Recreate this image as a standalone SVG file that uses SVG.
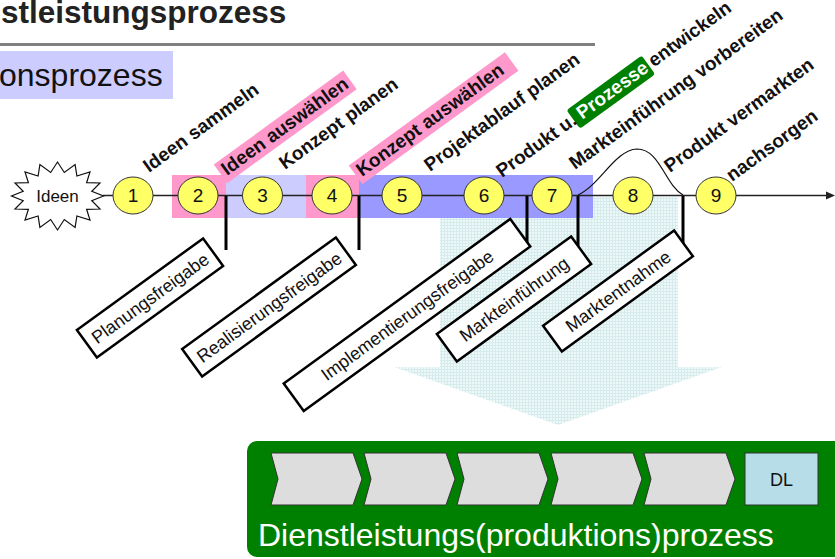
<svg xmlns="http://www.w3.org/2000/svg" width="835" height="559" viewBox="0 0 835 559">
  <style>
    .lbl { font-family: "Liberation Sans", Arial, sans-serif; font-size: 19px; font-weight: bold; fill: #111; }
    .num { font-family: "Liberation Sans", Arial, sans-serif; font-size: 19px; fill: #111; text-anchor: middle; }
    .box text { font-family: "Liberation Sans", Arial, sans-serif; font-size: 18px; fill: #111; text-anchor: middle; }
    .box rect { fill: #ffffff; stroke: #000; stroke-width: 2.5; }
    .step { fill: #ffff66; stroke: #333; stroke-width: 1; }
    .gate { stroke: #000; stroke-width: 3; fill: none; }
    .chev { fill: #dddddd; stroke: #333; stroke-width: 1; }
  </style>
  <defs>
    <pattern id="grid" width="3" height="3" patternUnits="userSpaceOnUse">
      <rect width="3" height="3" fill="#eff8f8"/>
      <path d="M0,0.5H3M0.5,0V3" stroke="#d6ecec" stroke-width="1"/>
    </pattern>
  </defs>

  <!-- header -->
  <text x="1" y="23" font-family="Liberation Sans, Arial, sans-serif" font-size="31.5" font-weight="bold" fill="#222">stleistungsprozess</text>
  <line x1="0" y1="44.5" x2="595" y2="44.5" stroke="#808080" stroke-width="3"/>
  <rect x="0" y="51" width="173" height="48" fill="#ccccff"/>
  <text x="-1" y="86" font-family="Liberation Sans, Arial, sans-serif" font-size="32" fill="#111">onsprozess</text>

  <!-- big hatched down arrow -->
  <path id="flow-arrow" d="M440,197 L678,197 L678,367 L722,367 L558,425 L394,367 L440,367 Z" fill="url(#grid)"/>

  <!-- phase bands -->
  <g id="bands">
    <rect x="172" y="175" width="54" height="43" fill="#ff99cc"/>
    <rect x="226" y="175" width="80" height="43" fill="#ccccff"/>
    <rect x="306" y="175" width="53" height="43" fill="#ff99cc"/>
    <rect x="359" y="175" width="234" height="43" fill="#9999ff"/>
  </g>

  <!-- connectors: timeline, gates, market curve -->
  <g id="connectors">
    <line x1="103" y1="195.5" x2="828" y2="195.5" stroke="#222" stroke-width="1.5"/>
    <polygon points="826,191.5 835,195.5 826,199.5" fill="#222"/>
    <line class="gate" x1="226" y1="196" x2="226" y2="250"/>
    <line class="gate" x1="359" y1="196" x2="359" y2="250"/>
    <line class="gate" x1="527" y1="196" x2="527" y2="245"/>
    <line class="gate" x1="578" y1="196" x2="578" y2="246"/>
    <line class="gate" x1="683" y1="196" x2="683" y2="250"/>
    <path d="M578,195 C600,185 615,150 637,149 C660,149 665,185 683,195" fill="none" stroke="#111" stroke-width="1.2"/>
  </g>

  <!-- start node: 16-point burst -->
  <g id="ideen">
    <polygon fill="#fff" stroke="#111" stroke-width="1.2" points="103.5,196 91.8,200.7 100,209 86.6,209.3 90,220 76.9,216 75.1,227.4 64.3,219.5 57.5,230 50.7,219.5 39.9,227.4 38.1,216 25,220 28.4,209.3 15,209 23.2,200.7 11.5,196 23.2,191.3 15,183 28.4,182.7 25,172 38.1,176 39.9,164.6 50.7,172.5 57.5,162 64.3,172.5 75.1,164.6 76.9,176 90,172 86.6,182.7 100,183 91.8,191.3"/>
    <text x="57.5" y="202" font-family="Liberation Sans, Arial, sans-serif" font-size="17" fill="#111" text-anchor="middle">Ideen</text>
  </g>

  <!-- process steps -->
  <g id="step1"><ellipse class="step" cx="133" cy="195.5" rx="20" ry="18.5"/><text class="num" x="133" y="202">1</text></g>
  <g id="step2"><ellipse class="step" cx="198" cy="195.5" rx="20" ry="18.5"/><text class="num" x="198" y="202">2</text></g>
  <g id="step3"><ellipse class="step" cx="262.5" cy="195.5" rx="20" ry="18.5"/><text class="num" x="262.5" y="202">3</text></g>
  <g id="step4"><ellipse class="step" cx="332" cy="195.5" rx="20" ry="18.5"/><text class="num" x="332" y="202">4</text></g>
  <g id="step5"><ellipse class="step" cx="402" cy="195.5" rx="20" ry="18.5"/><text class="num" x="402" y="202">5</text></g>
  <g id="step6"><ellipse class="step" cx="484" cy="195.5" rx="20" ry="18.5"/><text class="num" x="484" y="202">6</text></g>
  <g id="step7"><ellipse class="step" cx="552" cy="195.5" rx="20" ry="18.5"/><text class="num" x="552" y="202">7</text></g>
  <g id="step8"><ellipse class="step" cx="633" cy="195.5" rx="20" ry="18.5"/><text class="num" x="633" y="202">8</text></g>
  <g id="step9"><ellipse class="step" cx="716" cy="195.5" rx="20" ry="18.5"/><text class="num" x="716" y="202">9</text></g>

  <!-- step titles -->
  <g id="titles">
    <text class="lbl" transform="translate(149,173) rotate(-36)">Ideen sammeln</text>
    <g transform="translate(227,176) rotate(-36)">
      <rect x="-4" y="-17" width="160" height="23" fill="#ff99cc"/>
      <text class="lbl">Ideen auswählen</text>
    </g>
    <text class="lbl" transform="translate(285,170) rotate(-36)">Konzept planen</text>
    <g transform="translate(362,177) rotate(-36)">
      <rect x="-4" y="-17" width="193" height="23" fill="#ff99cc"/>
      <text class="lbl">Konzept auswählen</text>
    </g>
    <text class="lbl" transform="translate(430,172) rotate(-36)">Projektablauf planen</text>
    <g transform="translate(502,178) rotate(-36)">
      <rect x="92" y="-17" width="93" height="23" rx="3" fill="#008000"/>
      <text class="lbl">Produkt u. <tspan fill="#fff">Prozesse</tspan> entwickeln</text>
    </g>
    <text class="lbl" transform="translate(575,170) rotate(-36)">Markteinführung vorbereiten</text>
    <text class="lbl" transform="translate(670,173) rotate(-36)">Produkt vermarkten</text>
    <text class="lbl" transform="translate(732,182) rotate(-36)">nachsorgen</text>
  </g>

  <!-- gate boxes -->
  <g id="gate-planung" class="box" transform="translate(150,298) rotate(-36)">
    <rect x="-78" y="-17" width="156" height="34"/><text y="6.5">Planungsfreigabe</text>
  </g>
  <g id="gate-realisierung" class="box" transform="translate(269,307) rotate(-36)">
    <rect x="-95" y="-17" width="190" height="34"/><text y="6.5">Realisierungsfreigabe</text>
  </g>
  <g id="gate-implementierung" class="box" transform="translate(407,315) rotate(-36)">
    <rect x="-140" y="-17" width="280" height="34"/><text y="6.5">Implementierungsfreigabe</text>
  </g>
  <g id="gate-markteinfuehrung" class="box" transform="translate(514,299) rotate(-36)">
    <rect x="-83" y="-17" width="166" height="34"/><text y="6.5">Markteinführung</text>
  </g>
  <g id="gate-marktentnahme" class="box" transform="translate(618,291) rotate(-36)">
    <rect x="-81" y="-16" width="162" height="32"/><text y="6.5">Marktentnahme</text>
  </g>

  <!-- service production process -->
  <g id="dl-prozess">
    <rect x="247" y="441" width="600" height="116" rx="10" fill="#008000"/>
    <polygon class="chev" points="271,453 353,453 362,479 353,505 271,505 278,479"/>
    <polygon class="chev" points="364,453 446,453 455,479 446,505 364,505 371,479"/>
    <polygon class="chev" points="457,453 539,453 548,479 539,505 457,505 464,479"/>
    <polygon class="chev" points="551,453 633,453 642,479 633,505 551,505 558,479"/>
    <polygon class="chev" points="644,453 726,453 735,479 726,505 644,505 651,479"/>
    <rect x="745" y="453" width="73" height="52" fill="#b7dee8" stroke="#333" stroke-width="1"/>
    <text x="781.5" y="486" font-family="Liberation Sans, Arial, sans-serif" font-size="18" fill="#111" text-anchor="middle">DL</text>
    <text x="258" y="546" font-family="Liberation Sans, Arial, sans-serif" font-size="32" fill="#fff">Dienstleistungs(produktions)prozess</text>
  </g>
</svg>
